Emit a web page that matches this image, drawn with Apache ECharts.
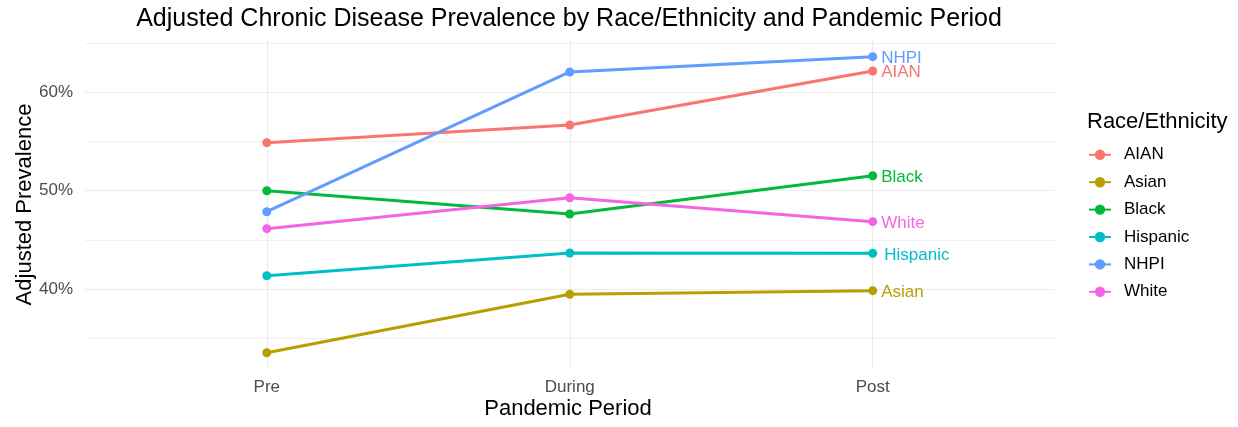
<!DOCTYPE html>
<html>
<head>
<meta charset="utf-8">
<script src="https://cdn.jsdelivr.net/npm/echarts@6/dist/echarts.min.js"></script>
<style>
html,body{margin:0;padding:0;background:#fff;}
#chart{width:1238px;height:427px;}
</style>
</head>
<body>
<div id="chart"></div>
<script>
var periods = ['Pre', 'During', 'Post'];
var groups = ['AIAN', 'Asian', 'Black', 'Hispanic', 'NHPI', 'White'];
var aian = [54.87, 56.66, 62.14];
var asian = [33.57, 39.49, 39.86];
var black = [50.00, 47.64, 51.52];
var hispanic = [41.38, 43.68, 43.65];
var nhpi = [47.87, 62.04, 63.59];
var white = [46.15, 49.29, 46.86];
var yMajorTicks = [40, 50, 60];
var yMinorTicks = [35, 45, 55, 65];
var xTicks = [0, 1, 2];

var colors = ['#F8766D', '#B79F00', '#00BA38', '#00BFC4', '#619CFF', '#F564E3'];
var values = [aian, asian, black, hispanic, nhpi, white];
var FONT = '"Liberation Sans", Arial, sans-serif';

var series = groups.map(function (g, i) {
  return {
    name: g,
    type: 'line',
    z: 5,
    symbol: 'circle',
    symbolSize: 9,
    color: colors[i],
    lineStyle: { width: 3, color: colors[i] },
    itemStyle: { color: colors[i] },
    emphasis: { disabled: true },
    data: values[i].map(function (v, j) {
      var d = { value: [j, v] };
      if (j === values[i].length - 1) {
        d.label = {
          show: true, position: 'right', distance: 4,
          formatter: g, color: colors[i], fontSize: 17, fontFamily: FONT,
          offset: g === 'Hispanic' ? [3, 2] : [0, 1.5]
        };
      }
      return d;
    })
  };
});

var gridLine = function (w) { return { color: '#EBEBEB', width: w, type: 'solid' }; };
series.unshift({
  name: '_grid',
  type: 'line',
  data: [],
  z: 1,
  silent: true,
  markLine: {
    silent: true,
    symbol: 'none',
    animation: false,
    label: { show: false },
    data: yMinorTicks.map(function (v) { return { yAxis: v, lineStyle: gridLine(0.8) }; })
      .concat(yMajorTicks.map(function (v) { return { yAxis: v, lineStyle: gridLine(1.2) }; }))
      .concat(xTicks.map(function (v) { return { xAxis: v, lineStyle: gridLine(1.2) }; }))
  }
});

var chart = echarts.init(document.getElementById('chart'));
chart.setOption({
  animation: false,
  backgroundColor: '#fff',
  textStyle: { fontFamily: FONT },
  grid: { left: 85, right: 183.5, top: 40.8, bottom: 58.8, containLabel: false },
  xAxis: {
    type: 'value', min: -0.6, max: 2.6,
    axisLine: { show: false }, axisTick: { show: false }, splitLine: { show: false },
    axisLabel: {
      customValues: xTicks, margin: 11, color: '#4D4D4D', fontSize: 17, fontFamily: FONT,
      formatter: function (v) { return periods[Math.round(v)]; }
    }
  },
  yAxis: {
    type: 'value', min: 32, max: 65.2,
    axisLine: { show: false }, axisTick: { show: false }, splitLine: { show: false },
    axisLabel: {
      customValues: yMajorTicks, margin: 12, color: '#4D4D4D', fontSize: 17, fontFamily: FONT,
      formatter: function (v) { return v + '%'; }
    }
  },
  legend: {
    data: groups,
    orient: 'vertical',
    left: 1088, top: 146.3, padding: 0,
    itemWidth: 22, itemHeight: 13, itemGap: 10.4,
    textStyle: { fontSize: 17, color: '#000', fontFamily: FONT, padding: [0, 0, 0, 8] },
    selectedMode: false
  },
  graphic: [
    { type: 'text', x: 569, y: 19, style: { text: 'Adjusted Chronic Disease Prevalence by Race/Ethnicity and Pandemic Period', fontSize: 25, fontFamily: FONT, fill: '#000', align: 'center', verticalAlign: 'middle' } },
    { type: 'text', x: 568, y: 409, style: { text: 'Pandemic Period', fontSize: 22, fontFamily: FONT, fill: '#000', align: 'center', verticalAlign: 'middle' } },
    { type: 'text', x: 24.5, y: 204.5, rotation: Math.PI / 2, style: { text: 'Adjusted Prevalence', fontSize: 22, fontFamily: FONT, fill: '#000', align: 'center', verticalAlign: 'middle' } },
    { type: 'text', x: 1087, y: 121.5, style: { text: 'Race/Ethnicity', fontSize: 22, fontFamily: FONT, fill: '#000', align: 'left', verticalAlign: 'middle' } }
  ],
  series: series
});
</script>
</body>
</html>
